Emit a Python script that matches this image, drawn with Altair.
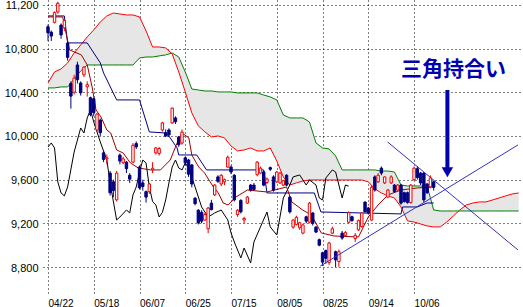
import altair as alt
import pandas as pd

# ---------------- data ----------------
tick_idx = [0, 14, 28, 42, 56, 70, 84, 98, 112]
tick_dates = ["04/22", "05/18", "06/07", "06/25", "07/15", "08/05", "08/25", "09/14", "10/06"]
y_ticks = [8800, 9200, 9600, 10000, 10400, 10800, 11200]

opens = [11000, 10950, 11040, 11135, 11015, 10990, 10850, 10480, 10400, 10650,
         10485, 10560, 10450, 10350, 10340, 10055, 10145, 9845, 9790, 9660,
         9580, 9415, 9825, 9755, 9760, 9640, 9760, 9930, 9715, 9570,
         9490, 9490, 9690, 9845, 9840, 10055, 10030, 10055, 10120, 10165,
         9990, 9935, 9800, 9780, 9735, 9430, 9320, 9300, 9230, 9150,
         9385, 9460, 9625, 9560, 9580, 9715, 9715, 9640, 9280, 9410,
         9230, 9385, 9550, 9550, 9645, 9660, 9670, 9575, 9710, 9625,
         9580, 9570, 9550, 9640, 9440, 9165, 9190, 9160, 9110, 9260,
         9210, 9295, 9165, 9050, 8930, 8950, 8840, 9110, 8940, 8850,
         9110, 9090, 9210, 9260, 9060, 9140, 9170, 9395, 9340, 9230,
         9625, 9580, 9705, 9570, 9440, 9570, 9550, 9505, 9550, 9480,
         9480, 9390, 9600, 9700, 9660, 9660, 9560, 9535, 9580]
highs = [11020, 10965, 11140, 11230, 11030, 11070, 10865, 10500, 10560, 10680,
         10500, 10640, 10500, 10360, 10350, 10210, 10160, 9860, 9830, 9680,
         9600, 9680, 9840, 9810, 9770, 9660, 9935, 9950, 9730, 9600,
         9500, 9570, 9760, 9900, 9900, 10130, 10060, 10070, 10260, 10180,
         10000, 10060, 9810, 9790, 9740, 9440, 9330, 9320, 9295, 9350,
         9415, 9560, 9640, 9650, 9610, 9820, 9730, 9650, 9330, 9420,
         9260, 9450, 9560, 9570, 9770, 9720, 9680, 9620, 9720, 9640,
         9680, 9670, 9600, 9650, 9450, 9240, 9270, 9215, 9195, 9270,
         9395, 9300, 9175, 9060, 8940, 8960, 9030, 9170, 8950, 8960,
         9130, 9130, 9310, 9270, 9110, 9235, 9300, 9400, 9350, 9550,
         9640, 9660, 9720, 9630, 9515, 9640, 9560, 9560, 9560, 9490,
         9490, 9560, 9720, 9720, 9670, 9670, 9570, 9640, 9590]
lows = [10870, 10870, 11030, 11120, 10890, 10960, 10690, 10250, 10380, 10480,
        10370, 10540, 10360, 10180, 10180, 10040, 10000, 9760, 9740, 9455,
        9440, 9400, 9740, 9740, 9660, 9570, 9750, 9880, 9510, 9500,
        9390, 9470, 9660, 9830, 9820, 10040, 9990, 9990, 10110, 10110,
        9900, 9920, 9730, 9625, 9530, 9365, 9190, 9200, 9225, 9110,
        9320, 9450, 9570, 9540, 9550, 9710, 9650, 9400, 9260, 9290,
        9200, 9380, 9490, 9500, 9630, 9650, 9540, 9560, 9680, 9490,
        9570, 9560, 9540, 9540, 9290, 9150, 9180, 9140, 9100, 9200,
        9200, 9180, 9110, 8990, 8810, 8830, 8820, 9100, 8800, 8800,
        9050, 9080, 9200, 9215, 9030, 9130, 9160, 9300, 9280, 9220,
        9490, 9570, 9640, 9560, 9430, 9560, 9480, 9500, 9370, 9390,
        9380, 9380, 9590, 9600, 9550, 9390, 9470, 9520, 9500]
closes = [10945, 10915, 11130, 11215, 10925, 11057, 10720, 10365, 10530, 10515,
          10395, 10630, 10470, 10195, 10215, 10200, 10030, 9785, 9800, 9480,
          9500, 9660, 9770, 9790, 9700, 9605, 9915, 9900, 9525, 9537,
          9440, 9560, 9705, 9890, 9885, 10120, 10000, 10010, 10255, 10130,
          9920, 10035, 9755, 9650, 9560, 9380, 9205, 9220, 9280, 9340,
          9325, 9550, 9585, 9640, 9600, 9805, 9670, 9415, 9320, 9305,
          9245, 9440, 9505, 9510, 9760, 9705, 9550, 9605, 9695, 9505,
          9670, 9660, 9590, 9550, 9305, 9230, 9255, 9205, 9185, 9220,
          9385, 9200, 9120, 9000, 8845, 8880, 9020, 9150, 8865, 8940,
          9065, 9115, 9300, 9225, 9090, 9225, 9295, 9305, 9295, 9530,
          9505, 9640, 9660, 9625, 9505, 9625, 9490, 9550, 9385, 9400,
          9390, 9550, 9705, 9620, 9570, 9415, 9480, 9615, 9530]

cloud_idx = list(range(0, 145, 2))
span_a = [10485, 10586, 10614, 10669, 10760, 10833, 10907, 10971, 11044, 11099,
          11126, 11117, 11108, 11108, 11090, 10962, 10815, 10815, 10806, 10751,
          10586, 10403, 10211, 10092, 10037, 9991, 10000, 9982, 9908, 9863,
          9872, 9890, 9863, 9863, 9890, 9771, 9625, 9551, 9570, 9588,
          9597, 9597, 9597, 9597, 9597, 9597, 9597, 9597, 9597, 9580,
          9515, 9478, 9451, 9432, 9350, 9222, 9212, 9194, 9176, 9167,
          9167, 9212, 9267, 9322, 9368, 9386, 9396, 9396, 9414, 9432,
          9451, 9469, 9478]
span_b = [10440, 10440, 10449, 10449, 10522, 10595, 10650, 10650, 10650, 10650,
          10650, 10650, 10650, 10650, 10714, 10723, 10723, 10733, 10742, 10760,
          10723, 10586, 10430, 10421, 10412, 10412, 10403, 10403, 10403, 10394,
          10394, 10394, 10394, 10375, 10357, 10330, 10192, 10165, 10165, 10165,
          10128, 9936, 9890, 9881, 9817, 9689, 9689, 9689, 9689, 9689,
          9689, 9679, 9679, 9670, 9551, 9542, 9542, 9542, 9542, 9322,
          9313, 9313, 9313, 9313, 9313, 9313, 9313, 9313, 9313, 9313,
          9313, 9313, 9313]

tenkan_idx = [0, 4.5, 6.6, 10.2, 12, 13.5, 14.7, 16.2, 18, 19.2, 21, 23, 25.2, 27.6,
              31.4, 34.4, 37.4, 39.5, 41, 43.1, 44, 46.1, 47.9, 50.6, 52.1, 53.6,
              55.1, 57.5, 61, 67, 73, 74.6, 77.9, 80.6, 83.6, 87.5, 95, 98, 101,
              104, 108, 113, 118]
tenkan_val = [11090, 11090, 10788, 10742, 10650, 10449, 10238, 10174, 10055, 10027,
              9872, 9844, 9753, 9707, 9689, 9689, 9780, 9936, 10027, 9982, 9826,
              9716, 9661, 9533, 9478, 9386, 9368, 9441, 9505, 9487, 9533, 9396,
              9322, 9277, 9112, 9084, 9075, 9258, 9368, 9460, 9505, 9524, 9533]

kijun_idx = [0, 5, 6, 12, 16, 17, 21, 28, 31, 36, 37.4, 39.5, 40, 45.5, 48.5, 66,
             67, 81.5, 83.5, 108, 108.5, 113, 116, 118]
kijun_val = [11099, 11099, 10852, 10852, 10669, 10577, 10330, 10330, 10037, 10027,
             9982, 9890, 9826, 9826, 9689, 9689, 9478, 9478, 9304, 9286, 9350,
             9350, 9386, 9386]

chikou_idx = [0, 1, 2, 3, 4, 5, 6, 8, 9, 10, 11, 12, 13, 14, 16, 18, 19, 21, 22, 24,
              25, 26, 27, 28, 29, 30, 31, 32, 33, 34, 35, 36, 37, 38, 39, 40, 41, 42,
              43, 45, 47, 49, 51, 53, 55, 56, 57, 59, 60, 62, 63, 65, 67, 68, 70, 72,
              74, 75, 77, 79, 80, 82, 83, 84, 85, 87, 88, 89, 90, 91, 92]
chikou_val = [9899, 9936, 9890, 9579, 9478, 9451, 9533, 9853, 9963, 10073, 10027,
              10165, 10238, 10128, 9945, 9780, 9570, 9231, 9258, 9322, 9295, 9460,
              9533, 9670, 9780, 9753, 9533, 9400, 9368, 9258, 9300, 9414, 9570, 9716,
              9780, 9707, 9689, 9753, 9707, 9533, 9350, 9258, 9295, 9322, 9231, 9112,
              9029, 8883, 8974, 8837, 9029, 9167, 9304, 9167, 9093, 9432, 9551, 9625,
              9643, 9551, 9597, 9551, 9432, 9414, 9615, 9689, 9670, 9551, 9432, 9551,
              9540]

# triangle (持合い) trend lines: start index, start value, end index, end value
trend_i1 = [103.9, 83.3]
trend_v1 = [9945, 8809]
trend_i2 = [143.8, 143.8]
trend_v2 = [8956, 9918]

note_text = "三角持合い"

# ---------------- tables ----------------
candles = pd.DataFrame({"i": list(range(len(opens))), "o": opens, "h": highs,
                        "l": lows, "c": closes})
cloud = pd.DataFrame({"i": cloud_idx, "a": span_a, "b": span_b})
tenkan = pd.DataFrame({"i": tenkan_idx, "v": tenkan_val})
kijun = pd.DataFrame({"i": kijun_idx, "v": kijun_val})
chikou = pd.DataFrame({"i": chikou_idx, "v": chikou_val})
trends = pd.DataFrame({"i": trend_i1, "v": trend_v1, "i2": trend_i2, "v2": trend_v2})
arrow = pd.DataFrame({"i": [122.2], "top": [10421], "bot": [9700], "tip": [9668]})
note = pd.DataFrame({"i": [124.1], "v": [10604], "t": [note_text]})

# ---------------- scales / axes ----------------
xs = alt.Scale(domain=[0, 143.8], nice=False, zero=False)
ys = alt.Scale(domain=[8562, 11245], nice=False, zero=False)

label_expr = "[" + ",".join("'%s'" % d for d in tick_dates) + "][round(datum.value/14)]"
x_axis = alt.Axis(values=tick_idx, labelExpr=label_expr, grid=True, gridDash=[1, 3],
                  gridColor="#000000", gridWidth=1, ticks=False, domain=False,
                  labelAlign="left", labelFontSize=10, labelFont="Liberation Sans",
                  labelColor="#000000", labelPadding=5, title=None)
y_axis = alt.Axis(values=y_ticks, format=",d", grid=True, gridDash=[1, 3],
                  gridColor="#000000", gridWidth=1, ticks=False, domain=False,
                  labelFontSize=11, labelFont="Liberation Sans", labelColor="#000000",
                  labelPadding=5, labelOffset=1, title=None)


def X(f="i"):
    return alt.X(f + ":Q", scale=xs, axis=x_axis)


def Y(f):
    return alt.Y(f + ":Q", scale=ys, axis=y_axis)


cloud_area = alt.Chart(cloud).mark_area(fill="#e6e6e6", opacity=1, clip=True).encode(
    x=X(), y=Y("a"), y2="b:Q")

span_a_line = alt.Chart(cloud).mark_line(color="#ff0000", strokeWidth=1, clip=True).encode(
    x=X(), y=Y("a"))
span_b_line = alt.Chart(cloud).mark_line(color="#008000", strokeWidth=1, clip=True).encode(
    x=X(), y=Y("b"))
chikou_line = alt.Chart(chikou).mark_line(color="#000000", strokeWidth=1, clip=True).encode(
    x=X(), y=Y("v"))
kijun_line = alt.Chart(kijun).mark_line(color="#000080", strokeWidth=1, clip=True).encode(
    x=X(), y=Y("v"))
tenkan_line = alt.Chart(tenkan).mark_line(color="#a00000", strokeWidth=1, clip=True).encode(
    x=X(), y=Y("v"))

up = "datum.c >= datum.o"
wicks = alt.Chart(candles).mark_rule(strokeWidth=1, clip=True).encode(
    x=X(), y=Y("l"), y2="h:Q",
    color=alt.condition(up, alt.value("#ee0000"), alt.value("#000080")))
bodies = alt.Chart(candles).mark_bar(size=2.4, strokeWidth=1, orient="vertical", clip=True).encode(
    x=X(), y=Y("o"), y2="c:Q",
    fill=alt.condition(up, alt.value("#ffffff"), alt.value("#000080")),
    stroke=alt.condition(up, alt.value("#ee0000"), alt.value("#000080")))

trend_lines = alt.Chart(trends).mark_rule(color="#3030c8", strokeWidth=1, clip=True).encode(
    x=X(), y=Y("v"), x2="i2:Q", y2="v2:Q")

arrow_shaft = alt.Chart(arrow).mark_rule(color="#0000b0", strokeWidth=4).encode(
    x=X(), y=Y("top"), y2="bot:Q")
arrow_head = alt.Chart(arrow).mark_point(shape="triangle-down", filled=True, size=130,
                                         color="#0000b0", opacity=1).encode(
    x=X(), y=Y("tip"))
note_mark = alt.Chart(note).mark_text(font="Noto Sans CJK JP", fontSize=21, fontWeight="bold",
                                      color="#0000b0", align="center", baseline="middle").encode(
    x=X(), y=Y("v"), text="t:N")

chart = alt.layer(
    cloud_area, span_a_line, span_b_line, chikou_line, kijun_line, tenkan_line,
    wicks, bodies, trend_lines, arrow_shaft, arrow_head, note_mark
).properties(
    width=480, height=293,
    padding={"left": 43, "top": 0, "right": 0, "bottom": 14},
    autosize=alt.AutoSizeParams(type="none"),
    background="#ffffff",
).configure_view(stroke=None)

chart.save("out.html", embed_options={"renderer": "svg", "actions": False})
